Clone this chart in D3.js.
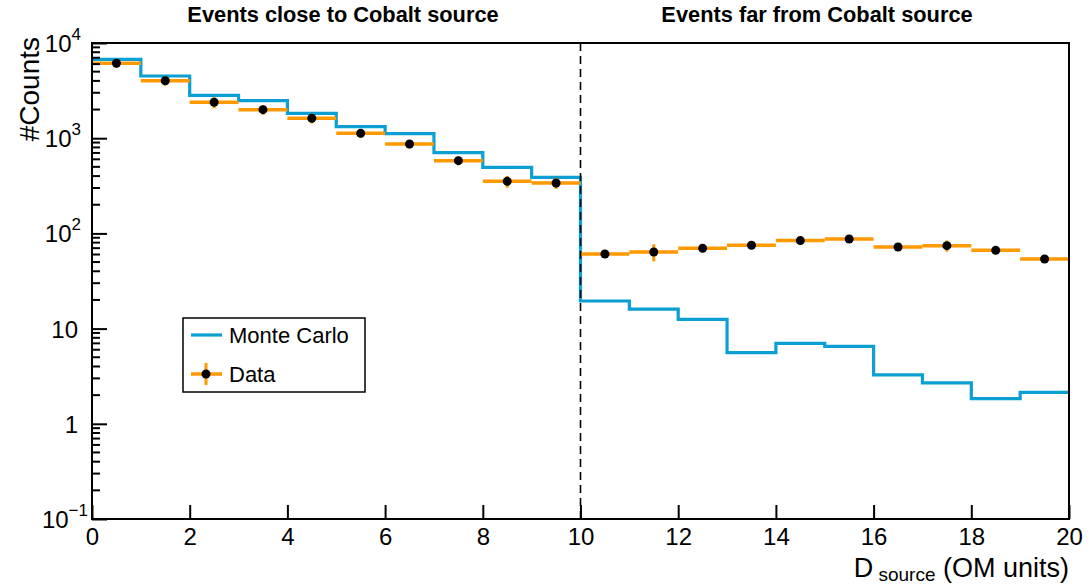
<!DOCTYPE html>
<html><head><meta charset="utf-8">
<script src="https://cdn.jsdelivr.net/npm/d3@7"></script>
<style>body{margin:0;background:#fff}svg{display:block;font-family:"Liberation Sans",Arial,sans-serif}</style>
</head><body><svg id="c" width="1091" height="584"></svg>
<script>
const binEdges = [0,1,2,3,4,5,6,7,8,9,10,11,12,13,14,15,16,17,18,19,20];
const mcCounts = [6740,4500,2820,2476,1825,1321,1116,705,494,388,19.5,16.0,12.5,5.6,7.0,6.5,3.26,2.69,1.84,2.14];
const dataCounts = [6120,4018,2383,1995,1618,1125,869,581,352,338,60.8,63.8,69.7,75,84,87.3,72,74.3,66.4,53.8];
const dataErrors = [600,450,320,230,190,120,90,60,50,45,5,13,5,5,4,3,5,10,3,3];
const xTicks = [0,2,4,6,8,10,12,14,16,18,20];
const yTickExps = [-1,0,1,2,3,4];
const titles = ["Events close to Cobalt source","Events far from Cobalt source"];
const legendLabels = ["Monte Carlo","Data"];

const svg = d3.select("#c");
const L=92,R=1069,T=43,B=519;
const x = d3.scaleLinear().domain([0,20]).range([L,R]);
const y = d3.scaleLog().domain([0.1,1e4]).range([B,T]);
const blue="#0b9fd2", orange="#ff9900";

// MC step histogram
const mcPts=[];
mcCounts.forEach((v,i)=>{mcPts.push([binEdges[i],v]);mcPts.push([binEdges[i+1],v]);});
svg.append("path").attr("d",d3.line().x(d=>x(d[0])).y(d=>y(d[1]))(mcPts))
  .attr("fill","none").attr("stroke",blue).attr("stroke-width",3.2);

// data
const g=svg.append("g");
dataCounts.forEach((v,i)=>{
  const xc=(binEdges[i]+binEdges[i+1])/2;
  g.append("line").attr("x1",x(binEdges[i])).attr("x2",x(binEdges[i+1])).attr("y1",y(v)).attr("y2",y(v))
   .attr("stroke",orange).attr("stroke-width",3.5);
  g.append("line").attr("x1",x(xc)).attr("x2",x(xc)).attr("y1",y(v+dataErrors[i])).attr("y2",y(Math.max(v-dataErrors[i],0.11)))
   .attr("stroke",orange).attr("stroke-width",3);
});
// dashed line
svg.append("line").attr("x1",x(10)).attr("x2",x(10)).attr("y1",B).attr("y2",T)
  .attr("stroke","#000").attr("stroke-width",1.6).attr("stroke-dasharray","8,5");
dataCounts.forEach((v,i)=>{
  const xc=(binEdges[i]+binEdges[i+1])/2;
  g.append("circle").attr("cx",x(xc)).attr("cy",y(v)).attr("r",4.5).attr("fill","#000");
});

// frame
svg.append("rect").attr("x",L).attr("y",T).attr("width",R-L).attr("height",B-T)
  .attr("fill","none").attr("stroke","#000").attr("stroke-width",2);

// x axis
const xa=svg.append("g").attr("transform",`translate(0,${B})`)
  .call(d3.axisBottom(x).tickValues(xTicks).tickSize(-14).tickPadding(20).tickFormat(d3.format("d")));
xa.select(".domain").remove();
xa.selectAll("line").attr("stroke","#000").attr("stroke-width",2);
xa.selectAll("text").attr("font-size",24).attr("fill","#000").attr("dy","0.35em").attr("y",18);

// y axis minor ticks
const minor=[];
for(let e=-1;e<4;e++) for(let m=2;m<=9;m++) minor.push(m*Math.pow(10,e));
svg.append("g").selectAll("line").data(minor).join("line")
  .attr("x1",L).attr("x2",L+8).attr("y1",d=>y(d)).attr("y2",d=>y(d)).attr("stroke","#000").attr("stroke-width",2);
const ya=svg.append("g").attr("transform",`translate(${L},0)`)
  .call(d3.axisLeft(y).tickValues(yTickExps.map(e=>Math.pow(10,e))).tickSize(-15).tickPadding(14).tickFormat(""));
ya.select(".domain").remove();
ya.selectAll("line").attr("stroke","#000").attr("stroke-width",2);
ya.selectAll(".tick").each(function(d,i){
  const e=yTickExps[i];
  const t=d3.select(this).append("text").attr("x",-14).attr("dy","0.35em").attr("text-anchor","end")
    .attr("font-size",24).attr("fill","#000");
  if(e===0) t.text("1");
  else if(e===1) t.text("10");
  else { t.append("tspan").text("10"); t.append("tspan").attr("font-size",17).attr("dy","-0.7em").text(e<0?"\u2212"+(-e):String(e)); }
  if(e<0) t.attr("x",-4);
  else if(e>1) t.attr("x",-11);
});

// axis titles
svg.append("text").attr("transform",`translate(39,${T-6}) rotate(-90)`).attr("text-anchor","end")
  .attr("font-size",28).attr("fill","#000").text("#Counts");
const xt=svg.append("text").attr("x",R).attr("y",577).attr("text-anchor","end").attr("font-size",27).attr("fill","#000");
xt.append("tspan").text("D");
xt.append("tspan").attr("font-size",19).attr("dy",4).text(" source");
xt.append("tspan").attr("dy",-4).text(" (OM units)");

// titles
svg.append("text").attr("x",343).attr("y",22).attr("text-anchor","middle").attr("font-weight","bold").attr("font-size",21.8).text(titles[0]);
svg.append("text").attr("x",817).attr("y",22).attr("text-anchor","middle").attr("font-weight","bold").attr("font-size",21.8).text(titles[1]);

// legend
const lg=svg.append("g");
lg.append("rect").attr("x",183).attr("y",318).attr("width",182).attr("height",74).attr("fill","#fff").attr("stroke","#000").attr("stroke-width",1.5);
lg.append("line").attr("x1",191).attr("x2",222).attr("y1",335).attr("y2",335).attr("stroke",blue).attr("stroke-width",3.2);
lg.append("text").attr("x",229).attr("y",335).attr("dy","0.35em").attr("font-size",22).text(legendLabels[0]);
lg.append("line").attr("x1",191).attr("x2",222).attr("y1",374).attr("y2",374).attr("stroke",orange).attr("stroke-width",3.5);
lg.append("line").attr("x1",206).attr("x2",206).attr("y1",363).attr("y2",385).attr("stroke",orange).attr("stroke-width",3);
lg.append("circle").attr("cx",206).attr("cy",374).attr("r",4.5).attr("fill","#000");
lg.append("text").attr("x",229).attr("y",374).attr("dy","0.35em").attr("font-size",22).text(legendLabels[1]);
</script></body></html>
